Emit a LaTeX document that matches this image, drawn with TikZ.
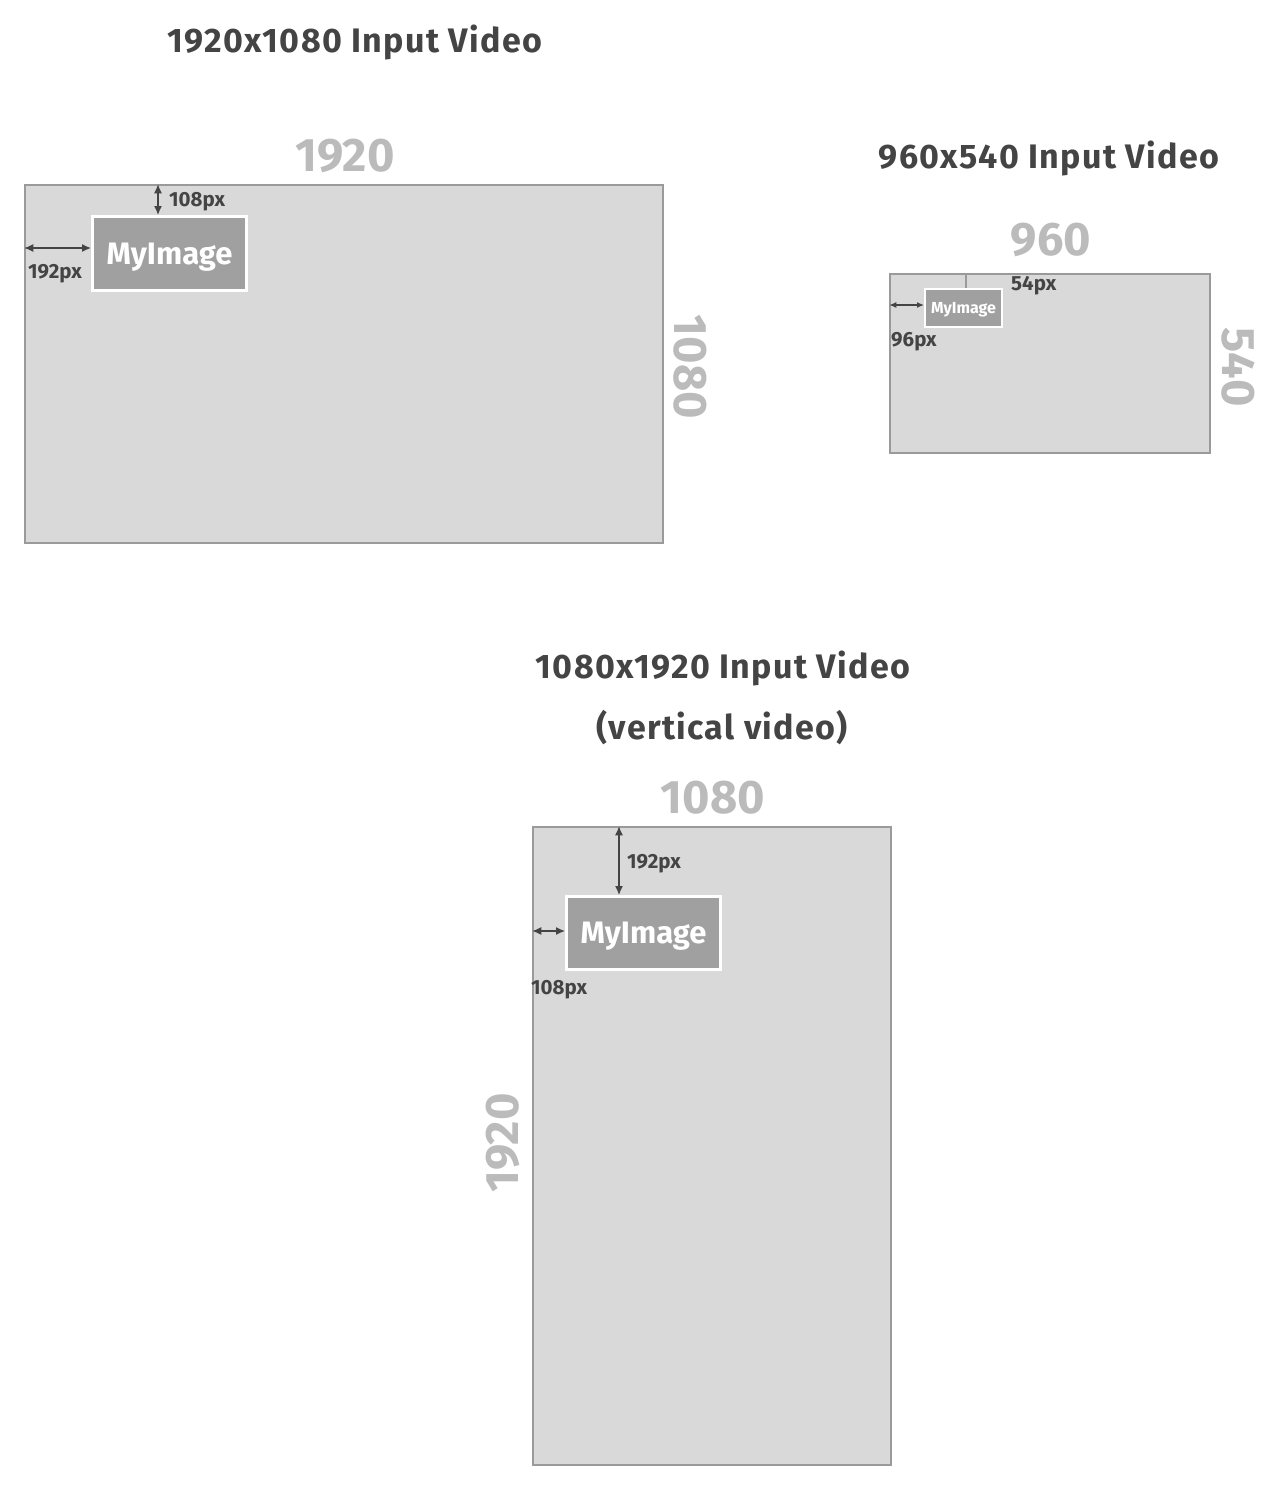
\documentclass[tikz,border=0pt]{standalone}
\usepackage{fontspec}
\setmainfont{Fira Sans}
\newfontfamily\titlefont[LetterSpace=4]{Fira Sans}
\usepackage{tikz}
\usetikzlibrary{arrows.meta, positioning, calc}

\definecolor{framefill}{HTML}{D9D9D9}
\definecolor{frameline}{HTML}{9A9A9A}
\definecolor{imgfill}{HTML}{A0A0A0}
\definecolor{dimgray}{HTML}{BBBBBB}
\definecolor{textdark}{HTML}{444444}

\tikzset{
  frame/.style={draw=frameline, fill=framefill, line width=1.5pt, inner sep=0pt},
  myimg/.style={draw=white, fill=imgfill, line width=3pt, inner sep=0pt, text=white, text depth=0pt},
  title/.style={text=textdark, font=\titlefont\fontsize{34}{40}\selectfont\bfseries},
  dimlabel/.style={text=dimgray, font=\fontsize{47}{50}\selectfont\bfseries},
  pxlabel/.style={text=textdark, font=\fontsize{20.5}{24}\selectfont\bfseries, inner sep=1pt},
  dimarrow/.style={draw=textdark, line width=1.3pt, {Latex[length=9pt,width=8pt]}-{Latex[length=9pt,width=8pt]}},
}

\begin{document}
\begin{tikzpicture}[x=1pt, y=-1pt]
    \useasboundingbox (0,0) rectangle (1280,1486);

    % 1920x1080 video
    \node[title] (bigtitle) at (355,42) {1920x1080 Input Video};
    \node[frame, minimum width=638pt, minimum height=358pt] (bigframe) at (344,364) {};
    \node[dimlabel] (bigw) at (345,156) {1920};
    \node[dimlabel, rotate=-90] (bigh) at (690,367) {1080};
    \node[myimg, minimum width=154pt, minimum height=74pt,
          font=\fontsize{31}{34}\selectfont\bfseries] (bigimg) at (169.5,253.5) {MyImage};
    \draw[dimarrow] (bigframe.west |- 0,248) coordinate (bigside) -- (bigside -| bigimg.west);
    \draw[dimarrow] (bigframe.north -| 158,0) coordinate (bigtop) -- (bigtop |- bigimg.north);
    \node[pxlabel, anchor=west] (bigleft) at (27,274) {192px};
    \node[pxlabel, anchor=west] (bigupper) at (168,202) {108px};

    % 960x540 video
    \node[title] (smalltitle) at (1049,158) {960x540 Input Video};
    \node[frame, minimum width=320pt, minimum height=179pt] (smallframe) at (1050,363.5) {};
    \node[dimlabel] (smallw) at (1051,240) {960};
    \node[dimlabel, rotate=-90] (smallh) at (1238,367) {540};
    \node[myimg, minimum width=77pt, minimum height=38pt, line width=2pt,
          font=\fontsize{16}{18}\selectfont\bfseries] (smallimg) at (963.5,308) {MyImage};
    \draw[dimarrow, {Latex[length=7pt,width=6pt]}-{Latex[length=7pt,width=6pt]}]
        (smallframe.west |- 0,305) coordinate (smallside) -- (smallside -| smallimg.west);
    \draw[draw=frameline, line width=1.2pt] (smallframe.north -| 966,0) coordinate (smalltop) -- (smalltop |- smallimg.north);
    \node[pxlabel, anchor=west] (smallleft) at (890,342) {96px};
    \node[pxlabel, anchor=west] (smallupper) at (1010,286) {54px};

    % 1080x1920 vertical video
    \node[title] (verttitle) at (723,668) {1080x1920 Input Video};
    \node[title] (vertsub) at (722,728) {(vertical video)};
    \node[frame, minimum width=358pt, minimum height=638pt] (vertframe) at (712,1146) {};
    \node[dimlabel] (vertw) at (713,798) {1080};
    \node[dimlabel, rotate=90] (verth) at (503,1143) {1920};
    \node[myimg, minimum width=154pt, minimum height=73pt,
          font=\fontsize{31}{34}\selectfont\bfseries] (vertimg) at (643.5,933) {MyImage};
    \draw[dimarrow] (vertframe.north -| 619,0) coordinate (verttop) -- (verttop |- vertimg.north);
    \draw[dimarrow] (vertframe.west |- 0,931) coordinate (vertside) -- (vertside -| vertimg.west);
    \node[pxlabel, anchor=west] (vertupper) at (626,864) {192px};
    \node[pxlabel, anchor=west] (vertleft) at (530,990) {108px};
\end{tikzpicture}
\end{document}
